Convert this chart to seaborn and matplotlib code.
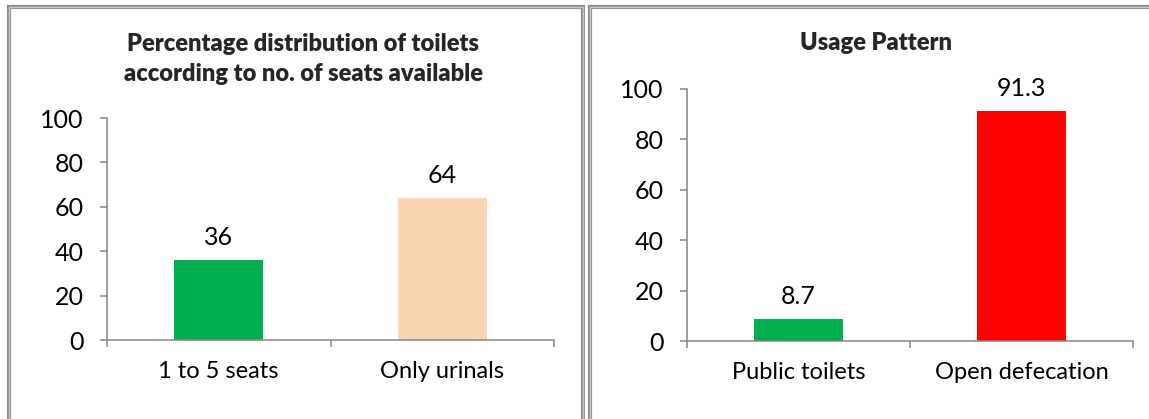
import matplotlib
matplotlib.use("Agg")
import matplotlib.pyplot as plt
from matplotlib.patches import Rectangle
import seaborn as sns
import pandas as pd

# Data
seat_categories = ["1 to 5 seats", "Only urinals"]
seat_values = [36, 64]
seat_colors = ["#00B050", "#FCD5B5"]

usage_categories = ["Public toilets", "Open defecation"]
usage_values = [8.7, 91.3]
usage_colors = ["#00B050", "#FF0000"]

y_ticks = [0, 20, 40, 60, 80, 100]

sns.set_theme(style="white")
plt.rcParams["font.family"] = ["Lato", "DejaVu Sans"]

AXIS_GREY = "#868686"
DPI = 100
fig = plt.figure(figsize=(1149 / DPI, 419 / DPI), dpi=DPI)
W, H = 1149, 419


def px_rect(x0, y0, x1, y1):
    """Convert pixel box (top-left origin) into figure fraction [l, b, w, h]."""
    return [x0 / W, 1 - y1 / H, (x1 - x0) / W, (y1 - y0) / H]


def draw_panel(ax, cats, vals, colors, fmt):
    df = pd.DataFrame({"cat": cats, "val": vals})
    sns.barplot(data=df, x="cat", y="val", hue="cat", palette=colors,
                width=0.4, saturation=1, legend=False, ax=ax, edgecolor="none")
    ax.set_xlim(-0.5, len(cats) - 0.5)
    ax.set_ylim(0, 100)
    ax.set_yticks(y_ticks)
    ax.set_yticklabels([str(t) for t in y_ticks])
    # category boundaries as ticks, labels centered under bars
    ax.set_xticks([i - 0.5 for i in range(len(cats) + 1)])
    ax.set_xticklabels([])
    ax.set_xticks(range(len(cats)), minor=True)
    ax.set_xticklabels(cats, minor=True)
    ax.tick_params(axis="x", which="major", length=5, width=1.1,
                   color=AXIS_GREY, direction="out", bottom=True)
    ax.tick_params(axis="x", which="minor", length=0, pad=15,
                   labelsize=17, labelcolor="black")
    ax.tick_params(axis="y", length=5, width=1.1, color=AXIS_GREY,
                   direction="out", left=True, pad=12, labelsize=18,
                   labelcolor="black")
    ax.set_xlabel("")
    ax.set_ylabel("")
    for side in ["top", "right"]:
        ax.spines[side].set_visible(False)
    for side in ["left", "bottom"]:
        ax.spines[side].set_color(AXIS_GREY)
        ax.spines[side].set_linewidth(1.1)
    ax.patch.set_alpha(0)
    for i, v in enumerate(vals):
        ax.annotate(fmt(v), xy=(i, v), xytext=(0, 16), textcoords="offset points",
                    ha="center", va="center", fontsize=18, color="black")


# Panel frames (grey double rule)
for ec, lw in [("#8C8C8C", 3.0), ("#C8C8C8", 1.0)]:
    frame_kw = dict(transform=fig.transFigure, fill=False, edgecolor=ec,
                    linewidth=lw, zorder=0)
    l, b, w, h = px_rect(9, 7, 583, 430)
    fig.patches.append(Rectangle((l, b), w, h, **frame_kw))
    l, b, w, h = px_rect(590, 7, 1160, 430)
    fig.patches.append(Rectangle((l, b), w, h, **frame_kw))

# Left chart
ax1 = fig.add_axes(px_rect(107, 118, 554, 340))
draw_panel(ax1, seat_categories, seat_values, seat_colors, lambda v: f"{v:g}")
fig.text(303 / W, 1 - 44 / H, "Percentage distribution of toilets",
         ha="center", va="center", fontsize=17, fontweight="heavy")
fig.text(303 / W, 1 - 74 / H, "according to no. of seats available",
         ha="center", va="center", fontsize=17, fontweight="heavy")

# Right chart
ax2 = fig.add_axes(px_rect(687, 89, 1133, 341))
draw_panel(ax2, usage_categories, usage_values, usage_colors, lambda v: f"{v:g}")
fig.text(876 / W, 1 - 43 / H, "Usage Pattern",
         ha="center", va="center", fontsize=17, fontweight="heavy")

fig.savefig("out.png", dpi=DPI, facecolor="white")
